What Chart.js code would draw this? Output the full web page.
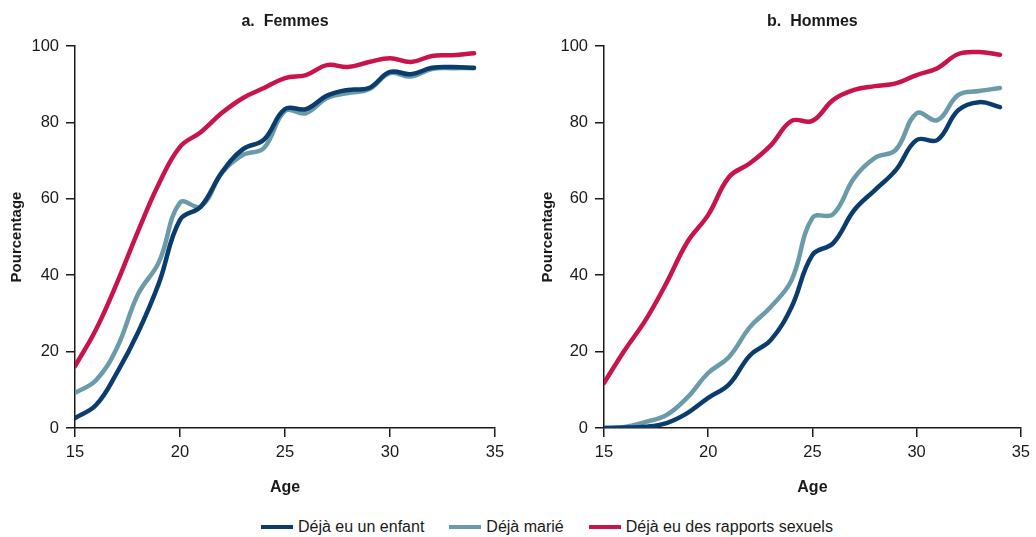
<!DOCTYPE html>
<html lang="fr">
<head>
<meta charset="utf-8">
<title>Femmes / Hommes</title>
<script src="https://cdn.jsdelivr.net/npm/chart.js@4.4.1/dist/chart.umd.min.js"></script>
<style>
  html, body { margin: 0; padding: 0; background: #fff; }
  #page { position: relative; width: 1036px; height: 537px; overflow: hidden; }
  .box { position: absolute; top: 0; width: 518px; height: 500px; }
  #boxLeft { left: 0; }
  #boxRight { left: 518px; }
  #legend {
    position: absolute; left: 261px; top: 515px; height: 24px;
    display: flex; align-items: center;
    font-family: "Liberation Sans", Arial, sans-serif;
    font-size: 16px; color: #1a1a1a;
  }
  .item { display: flex; align-items: center; margin-right: 25px; }
  .swatch { width: 32px; height: 4.5px; margin-right: 5px; }
</style>
</head>
<body>
<div id="page">
  <div class="box" id="boxLeft"><canvas id="chartFemmes" width="518" height="500"></canvas></div>
  <div class="box" id="boxRight"><canvas id="chartHommes" width="518" height="500"></canvas></div>
  <div id="legend"></div>
</div>
<script>
// Age (années)
const ages = [15, 16, 17, 18, 19, 20, 21, 22, 23, 24, 25, 26, 27, 28, 29, 30, 31, 32, 33, 34];
const xTicks = [15, 20, 25, 30, 35];
const yTicks = [0, 20, 40, 60, 80, 100];

const seriesNames = ['Déjà eu un enfant', 'Déjà marié', 'Déjà eu des rapports sexuels'];
const seriesColors = ['#0a3d6e', '#6b9ba8', '#c8144a'];

// a. Femmes
const femmesEnfant   = [2.6, 6, 14.5, 25, 38, 54.5, 58, 67, 73, 75.5, 83.5, 83.5, 87, 88.5, 89, 93.2, 92.6, 94.3, 94.5, 94.3];
const femmesMarie    = [9.2, 12.5, 21, 35, 43.5, 59, 58, 66.8, 71.5, 73.3, 83, 82.4, 86.4, 87.7, 88.7, 92.9, 92, 94, 94.2, 94.2];
const femmesRapports = [16.2, 25.8, 38, 51.5, 64, 73.6, 77.5, 82.5, 86.4, 89, 91.6, 92.4, 95, 94.5, 95.8, 96.8, 95.8, 97.4, 97.6, 98.1];

// b. Hommes
const hommesEnfant   = [0, 0.1, 0.3, 1.3, 3.9, 7.9, 11.4, 19, 23, 31.7, 45.3, 48.4, 57, 62.3, 67.5, 75.4, 75.4, 83.2, 85.3, 84];
const hommesMarie    = [0, 0.3, 1.6, 3.4, 8, 14.4, 18.6, 26.4, 31.7, 38.7, 55, 56, 65.4, 70.7, 72.8, 82.4, 80.6, 87.2, 88.2, 89];
const hommesRapports = [11.8, 20.4, 28.3, 38, 48.7, 55.8, 65.7, 69.3, 74, 80.4, 80.4, 85.9, 88.5, 89.5, 90.2, 92.4, 94.2, 97.9, 98.4, 97.7];

const regular = '"Liberation Sans", Arial, sans-serif';
const bold = '"Liberation Sans", Arial, sans-serif';
const ink = '#1a1a1a';

function buildDatasets(lists) {
    return lists.map((vals, i) => ({
        label: seriesNames[i],
        data: ages.map((a, k) => ({ x: a, y: vals[k] })),
        borderColor: seriesColors[i],
        backgroundColor: seriesColors[i],
        borderWidth: 4.5,
        pointRadius: 0,
        tension: 0.4,
        borderCapStyle: 'round',
        borderJoinStyle: 'round'
    }));
}

function makePanel(canvasId, titleText, lists, yWidth, yTitlePad, padRight) {
    const ctx = document.getElementById(canvasId).getContext('2d');
    return new Chart(ctx, {
        type: 'line',
        data: { datasets: buildDatasets(lists) },
        options: {
            responsive: false,
            animation: false,
            events: [],
            layout: { padding: { left: 0, right: padRight, top: 0, bottom: 0 } },
            plugins: {
                legend: { display: false },
                tooltip: { enabled: false },
                title: {
                    display: true,
                    text: titleText,
                    fullSize: false,
                    color: ink,
                    font: { family: bold, size: 16, weight: 'bold' },
                    padding: { top: 12.4, bottom: 14.4 }
                }
            },
            scales: {
                x: {
                    type: 'linear',
                    min: 15, max: 35,
                    afterBuildTicks: s => { s.ticks = xTicks.map(v => ({ value: v })); },
                    afterFit: s => { s.height = 72; },
                    border: { display: true, color: ink, width: 1.5 },
                    grid: { drawOnChartArea: false, drawTicks: true, tickLength: 9, color: ink, lineWidth: 1.5 },
                    ticks: { color: ink, font: { family: regular, size: 16.5 }, padding: 6, maxRotation: 0 },
                    title: {
                        display: true, text: 'Age', color: ink,
                        font: { family: bold, size: 16, weight: 'bold' },
                        padding: { top: 4, bottom: 3 }
                    }
                },
                y: {
                    min: 0, max: 100,
                    afterBuildTicks: s => { s.ticks = yTicks.map(v => ({ value: v })); },
                    afterFit: s => { s.width = yWidth; },
                    border: { display: true, color: ink, width: 1.5 },
                    grid: { drawOnChartArea: false, drawTicks: true, tickLength: 9, color: ink, lineWidth: 1.5 },
                    ticks: { color: ink, font: { family: regular, size: 16.5 }, padding: 7 },
                    title: {
                        display: true, text: 'Pourcentage', color: ink,
                        font: { family: bold, size: 15, weight: 'bold' },
                        padding: { top: yTitlePad, bottom: 0 }
                    }
                }
            }
        }
    });
}

makePanel('chartFemmes', 'a.  Femmes', [femmesEnfant, femmesMarie, femmesRapports], 75, 8, 23);
makePanel('chartHommes', 'b.  Hommes', [hommesEnfant, hommesMarie, hommesRapports], 86, 21, 11);

// légende commune
document.getElementById('legend').innerHTML = seriesNames.map((name, i) =>
    `<div class="item"><span class="swatch" style="background:${seriesColors[i]}"></span><span>${name}</span></div>`
).join('');
</script>
</body>
</html>
